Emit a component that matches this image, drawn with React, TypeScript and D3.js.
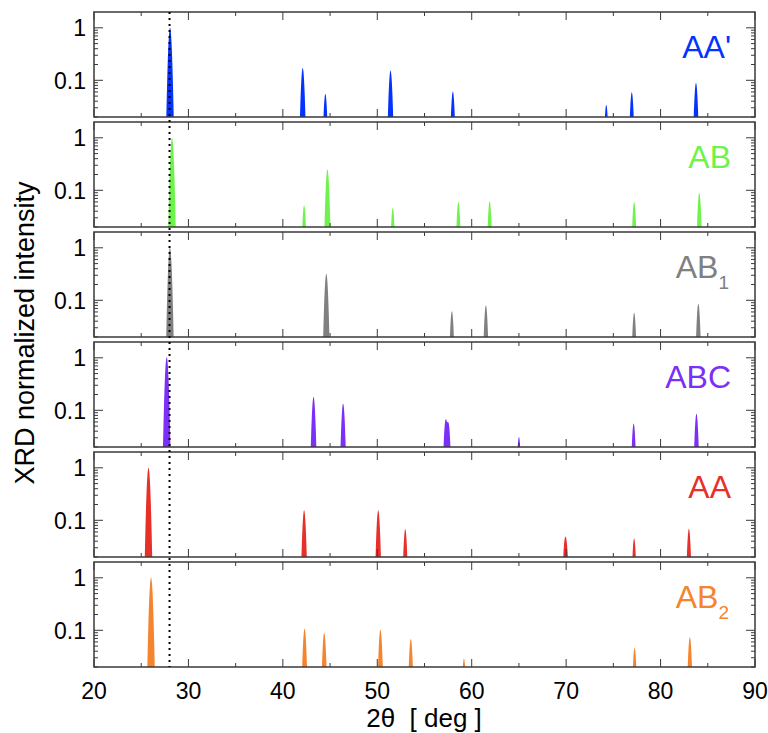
import React from "react";
import * as d3 from "d3";

// ---------- data ----------
const seriesNames = ["AA'", "AB", "AB1", "ABC", "AA", "AB2"];
const seriesColors = ["#0433ff", "#6ef24c", "#808080", "#7b2ff7", "#e8302a", "#f5842e"];

const aaPrimePos = [28.05, 42.1, 44.5, 51.4, 58.0, 74.25, 75.0, 76.95, 83.75];
const aaPrimeInt = [1.0, 0.171, 0.055, 0.153, 0.061, 0.034, 0.022, 0.059, 0.089];

const abPos = [28.26, 42.25, 44.72, 51.64, 58.59, 61.9, 77.2, 84.1];
const abInt = [1.0, 0.052, 0.25, 0.046, 0.06, 0.062, 0.06, 0.09];

const ab1Pos = [28.04, 44.6, 57.9, 61.5, 77.2, 84.0];
const ab1Int = [1.0, 0.32, 0.062, 0.08, 0.058, 0.086];

const abcPos = [27.7, 43.25, 46.38, 57.23, 57.55, 65.0, 77.15, 83.8];
const abcInt = [1.03, 0.179, 0.134, 0.063, 0.053, 0.031, 0.056, 0.086];

const aaPos = [25.77, 42.25, 50.1, 52.96, 69.85, 70.05, 77.2, 83.0];
const aaInt = [1.0, 0.155, 0.155, 0.068, 0.035, 0.028, 0.045, 0.069];

const ab2Pos = [26.04, 42.3, 44.38, 50.33, 53.55, 59.18, 77.25, 83.1];
const ab2Int = [1.0, 0.107, 0.09, 0.103, 0.068, 0.029, 0.046, 0.074];

const peakPositions = [aaPrimePos, abPos, ab1Pos, abcPos, aaPos, ab2Pos];
const peakIntensities = [aaPrimeInt, abInt, ab1Int, abcInt, aaInt, ab2Int];

const xTicksMajor = [20, 30, 40, 50, 60, 70, 80, 90];
const xTicksMinor = [25, 35, 45, 55, 65, 75, 85];
const yTicksMajor = [1, 0.1];
const yTickLabels = ["1", "0.1"];
const yTicksMinor = [0.02, 0.03, 0.04, 0.05, 0.06, 0.07, 0.08, 0.09, 0.2, 0.3, 0.4, 0.5, 0.6, 0.7, 0.8, 0.9];
const xDomain = [20, 90];
const yDomain = [0.02, 2];
const refLine = 28;
const peakSigma = 0.14;

// ---------- layout ----------
const W = 768;
const H = 733;
const left = 94;
const right = 755;
const panelTop0 = 12;
const panelH = 105;
const panelStep = 110;
const frameColor = "#3a3a3a";
const font = "'Liberation Sans', Arial, Helvetica, sans-serif";

const x = d3.scaleLinear().domain(xDomain).range([left, right]);
const samples = d3.range(xDomain[0], xDomain[1] + 0.0001, 0.01);

function Label({ name, color, top }: { name: string; color: string; top: number }) {
  const m = name.match(/^(.*?)(\d)$/);
  const base = m ? m[1] : name;
  const sub = m ? m[2] : null;
  return (
    <text x={sub ? 729 : 731} y={top + 46} textAnchor="end" fill={color} fontFamily={font} fontSize={32}>
      {base}
      {sub && (
        <tspan fontSize={19} dy={11}>
          {sub}
        </tspan>
      )}
    </text>
  );
}

function Panel({ idx }: { idx: number }) {
  const top = panelTop0 + idx * panelStep;
  const bottom = top + panelH;
  const y = d3.scaleLog().domain(yDomain).range([bottom, top]);
  const pos = peakPositions[idx];
  const ints = peakIntensities[idx];
  const vals = samples.map((t) => {
    let s = 0;
    for (let i = 0; i < pos.length; i++) {
      const d = t - pos[i];
      s += ints[i] * Math.exp(-(d * d) / (2 * peakSigma * peakSigma));
    }
    return { t, v: Math.max(s, yDomain[0]) };
  });
  const area = d3
    .area<{ t: number; v: number }>()
    .x((d) => x(d.t))
    .y0(bottom)
    .y1((d) => y(Math.min(d.v, yDomain[1])));
  const clipId = `clip${idx}`;
  return (
    <g>
      <defs>
        <clipPath id={clipId}>
          <rect x={left} y={top} width={right - left} height={panelH} />
        </clipPath>
      </defs>
      <path d={area(vals) || ""} fill={seriesColors[idx]} clipPath={`url(#${clipId})`} />
      {/* x ticks */}
      {xTicksMajor.map((t) => (
        <g key={"xM" + t}>
          <line x1={x(t)} x2={x(t)} y1={bottom} y2={bottom - 8} stroke={frameColor} strokeWidth={1} />
          <line x1={x(t)} x2={x(t)} y1={top} y2={top + 8} stroke={frameColor} strokeWidth={1} />
        </g>
      ))}
      {xTicksMinor.map((t) => (
        <g key={"xm" + t}>
          <line x1={x(t)} x2={x(t)} y1={bottom} y2={bottom - 4} stroke={frameColor} strokeWidth={1} />
          <line x1={x(t)} x2={x(t)} y1={top} y2={top + 4} stroke={frameColor} strokeWidth={1} />
        </g>
      ))}
      {/* y ticks */}
      {yTicksMajor.map((t) => (
        <g key={"yM" + t}>
          <line x1={left} x2={left + 9} y1={y(t)} y2={y(t)} stroke={frameColor} strokeWidth={1} />
          <line x1={right} x2={right - 9} y1={y(t)} y2={y(t)} stroke={frameColor} strokeWidth={1} />
        </g>
      ))}
      {yTicksMinor.map((t) => (
        <g key={"ym" + t}>
          <line x1={left} x2={left + 4} y1={y(t)} y2={y(t)} stroke={frameColor} strokeWidth={1} />
          <line x1={right} x2={right - 4} y1={y(t)} y2={y(t)} stroke={frameColor} strokeWidth={1} />
        </g>
      ))}
      {yTicksMajor.map((t, i) => (
        <text
          key={"yl" + t}
          x={86}
          y={y(t)}
          dy="0.36em"
          textAnchor="end"
          fontFamily={font}
          fontSize={23}
          fill="#000"
        >
          {yTickLabels[i]}
        </text>
      ))}
      <rect x={left} y={top} width={right - left} height={panelH} fill="none" stroke={frameColor} strokeWidth={1.5} />
      <Label name={seriesNames[idx]} color={seriesColors[idx]} top={top} />
    </g>
  );
}

export default function App() {
  const lastBottom = panelTop0 + 5 * panelStep + panelH;
  return (
    <svg
      width={W}
      height={H}
      viewBox={`0 0 ${W} ${H}`}
      style={{ position: "absolute", left: 0, top: 0, background: "#fff" }}
    >
      <rect x={0} y={0} width={W} height={H} fill="#fff" />
      {seriesNames.map((_, i) => (
        <Panel key={i} idx={i} />
      ))}
      <line
        x1={x(refLine)}
        x2={x(refLine)}
        y1={panelTop0}
        y2={lastBottom}
        stroke="#000"
        strokeWidth={2}
        strokeDasharray="2,4"
      />
      {xTicksMajor.map((t) => (
        <text key={"xl" + t} x={x(t)} y={699} textAnchor="middle" fontFamily={font} fontSize={23} fill="#000">
          {t}
        </text>
      ))}
      <text x={424} y={727} textAnchor="middle" fontFamily={font} fontSize={26} fill="#000" xmlSpace="preserve">
        {"2θ  [ deg ]"}
      </text>
      <text
        transform={`translate(34, 333) rotate(-90)`}
        textAnchor="middle"
        fontFamily={font}
        fontSize={27}
        fill="#000"
      >
        XRD normalized intensity
      </text>
    </svg>
  );
}
